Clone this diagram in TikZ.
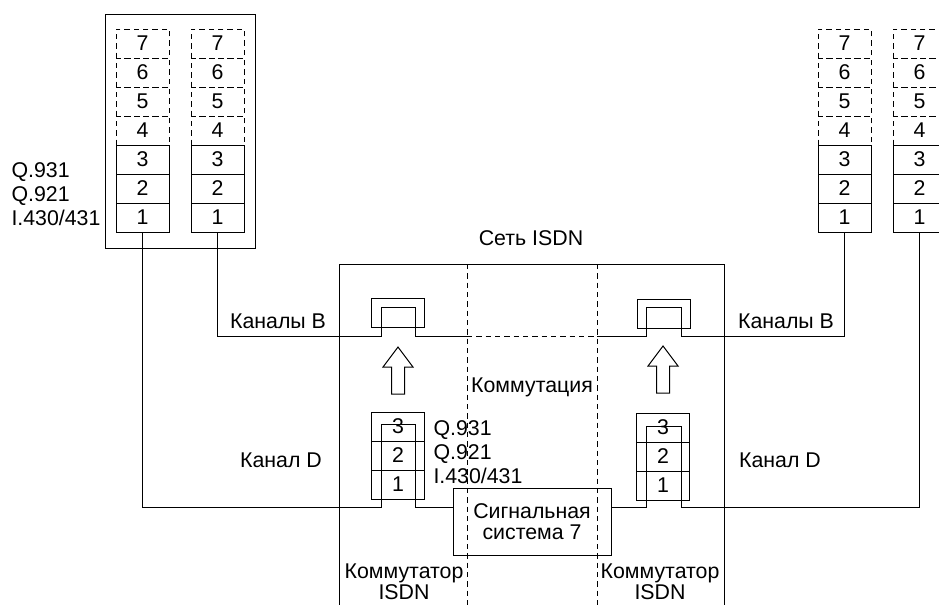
\documentclass[tikz,border=0pt]{standalone}
\usepackage{fontspec}
\setmainfont{Liberation Sans}
\tikzset{
  lay/.style={draw, minimum width=39.75pt, minimum height=21.75pt, inner sep=0pt},
  laydash/.style={lay, dashed},
  lbl/.style={inner sep=0pt},
}
\begin{document}
\begin{tikzpicture}[x=0.75pt, y=-0.75pt, line width=0.75pt, font=\fontsize{16}{18}\selectfont,
    dashed/.style={dash pattern=on 4pt off 3pt}]
  \useasboundingbox (0,0) rectangle (939,604);
  \clip (0,0) rectangle (939,604);
  % terminal stacks 1..7
  \foreach \term/\cx in {tA/142.5, tB/217.5, tC/844.5, tD/919.5} {
    \foreach \k in {7,6,5,4}
      \node[laydash] (\term\k) at (\cx,{232-29*(\k-0.5)}) {\k};
    \foreach \k in {3,2,1}
      \node[lay] (\term\k) at (\cx,{232-29*(\k-0.5)}) {\k};
  }
  \draw (105,14) rectangle (255,248);
  \node[lbl, anchor=west, align=left] (protA) at (11,194) {Q.931\\Q.921\\I.430/431};

  % ISDN network
  \node (net) at (531,238) {Сеть ISDN};
  \draw (339,610) -- (339,264) -- (724,264) -- (724,610);
  \draw[dashed] (467,264) -- (467,610) (597,264) -- (597,610);
  \node (komm) at (532,387) {Коммутация};
  \node[align=center] (swL) at (404,582) {Коммутатор\\[-2pt]ISDN};
  \node[align=center] (swR) at (660,582) {Коммутатор\\[-2pt]ISDN};

  % B-channel switches
  \node[lay] (kL) at (397.5,312.5) {};
  \node[lay] (kR) at (663.5,313.5) {};
  \coordinate (upL) at (398,347);
  \coordinate (upR) at (663,346);
  \foreach \c in {upL,upR}
    \draw (\c) -- ++(15,20) -- ++(-8.5,0) -- ++(0,27) -- ++(-13,0) -- ++(0,-27) -- ++(-8.5,0) -- cycle;

  % D-channel stacks 1..3
  \foreach \k in {1,2,3} {
    \node[lay] (sL\k) at (398,{499-29*(\k-0.5)}) {\k};
    \node[lay] (sR\k) at (663,{500-29*(\k-0.5)}) {\k};
  }
  \node[lbl, anchor=west, align=left] (protS) at (433,452) {Q.931\\Q.921\\I.430/431};
  \node[draw, minimum width=118.5pt, minimum height=50.25pt, align=center] (ss7) at (532,521.5) {Сигнальная\\[-2pt]система 7};

  % channels
  \coordinate (jL) at (467,336.5);
  \coordinate (jR) at (597,336.5);
  \coordinate (dlev) at (0,507);
  \draw (tB1.south) |- (381,336.5) |- (415,307) |- (jL);
  \draw[dashed] (jL) -- (jR);
  \draw (jR) -| (646,307) -| (681,336.5) -| (tC1.south);
  \draw (tA1.south) |- (381,507) |- (415,424) |- (ss7.west |- dlev);
  \draw (ss7.east |- dlev) -| (646,426) -| (681,507) -| (tD1.south);
  \node (kbL) at (278,321) {Каналы B};
  \node (kbR) at (786,321) {Каналы B};
  \node (kdL) at (281,460) {Канал D};
  \node (kdR) at (780,460) {Канал D};
\end{tikzpicture}
\end{document}
